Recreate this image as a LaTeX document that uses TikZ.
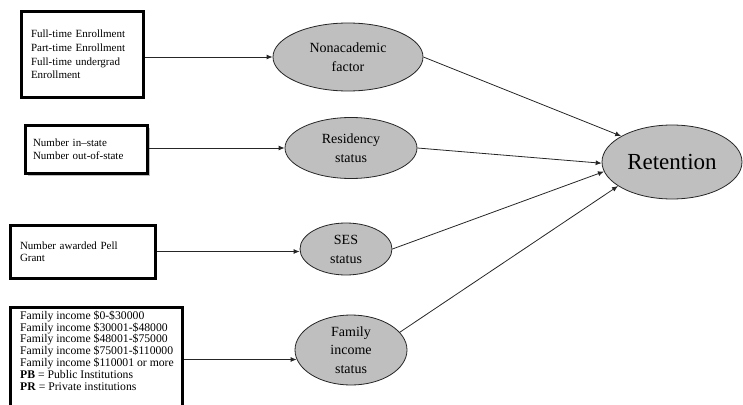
\documentclass[tikz,border=0pt]{standalone}
\usepackage{fontspec}
\setmainfont{Liberation Serif}
\usetikzlibrary{shapes.geometric,arrows.meta,shadows}
\definecolor{ellfill}{RGB}{191,191,191}
\begin{document}
\begin{tikzpicture}[x=1pt,y=-1pt,
  box/.style={draw=black,fill=white,line width=3pt,rectangle,align=left,inner ysep=0pt},
  boxfont/.style={font=\fontsize{11}{#1}\selectfont},
  ell/.style={draw=black!85,line width=0.8pt,ellipse,fill=ellfill,inner sep=0pt,align=center,font=\fontsize{14}{19}\selectfont},
  conn/.style={draw=black!85,line width=0.8pt,-{Latex[length=6pt,width=5pt]}}]
\useasboundingbox (0,0) rectangle (743,404);
% input boxes
\node[box,boxfont=13.7,minimum width=122pt,minimum height=85pt,text width=102pt,inner xsep=10pt] (b1) at (82,54.5)
  {Full-time Enrollment\\Part-time Enrollment\\Full-time undergrad\\Enrollment};
\node[box,boxfont=13,minimum width=122pt,minimum height=48pt,text width=106pt,inner xsep=8pt,
  drop shadow={opacity=0.5,shadow xshift=2.5pt,shadow yshift=-3pt}] (b2) at (86,149)
  {Number in--state\\Number out-of-state};
\node[box,boxfont=12.5,minimum width=145pt,minimum height=53pt,text width=125pt,inner xsep=10pt] (b3) at (82.5,251.5)
  {Number awarded Pell\\Grant};
\node[box,minimum width=172pt,minimum height=105pt] (b4) at (96,359.5) {};
\node[font=\fontsize{11.7}{11.9}\selectfont,anchor=north west,inner sep=0pt,align=left] (t4) at (20,310.5)
  {Family income \$0-\$30000\\Family income \$30001-\$48000\\Family income \$48001-\$75000\\Family income \$75001-\$110000\\Family income \$110001 or more\\\textbf{PB} = Public Institutions\\\textbf{PR} = Private institutions};
% ellipses
\node[ell,minimum width=150pt,minimum height=68pt] (na) at (348,57) {Nonacademic\\factor};
\node[ell,minimum width=132pt,minimum height=61pt] (rs) at (351,148) {Residency\\status};
\node[ell,minimum width=92pt,minimum height=52pt] (ses) at (346,249) {SES\\status};
\node[ell,minimum width=112pt,minimum height=70pt,font=\fontsize{14}{18.5}\selectfont] (fam) at (351,350) {Family\\income\\status};
\node[ell,minimum width=140pt,minimum height=74pt,font=\fontsize{23}{26}\selectfont] (ret) at (672,162) {Retention};
% connectors
\draw[conn] (b1.east |- na.west) -- (na.west);
\draw[conn] (b2.east |- rs.west) -- (rs.west);
\draw[conn] (b3.east) -- (b3.east -| ses.west);
\draw[conn] (b4.east) -- ([xshift=2pt]b4.east -| fam.west);
\draw[conn] (na.east) -- (ret.153);
\draw[conn] (rs.east) -- (ret.181);
\draw[conn] (ses.east) -- (ret.188);
\draw[conn] (fam.20) -- (ret.204);
\end{tikzpicture}
\end{document}
